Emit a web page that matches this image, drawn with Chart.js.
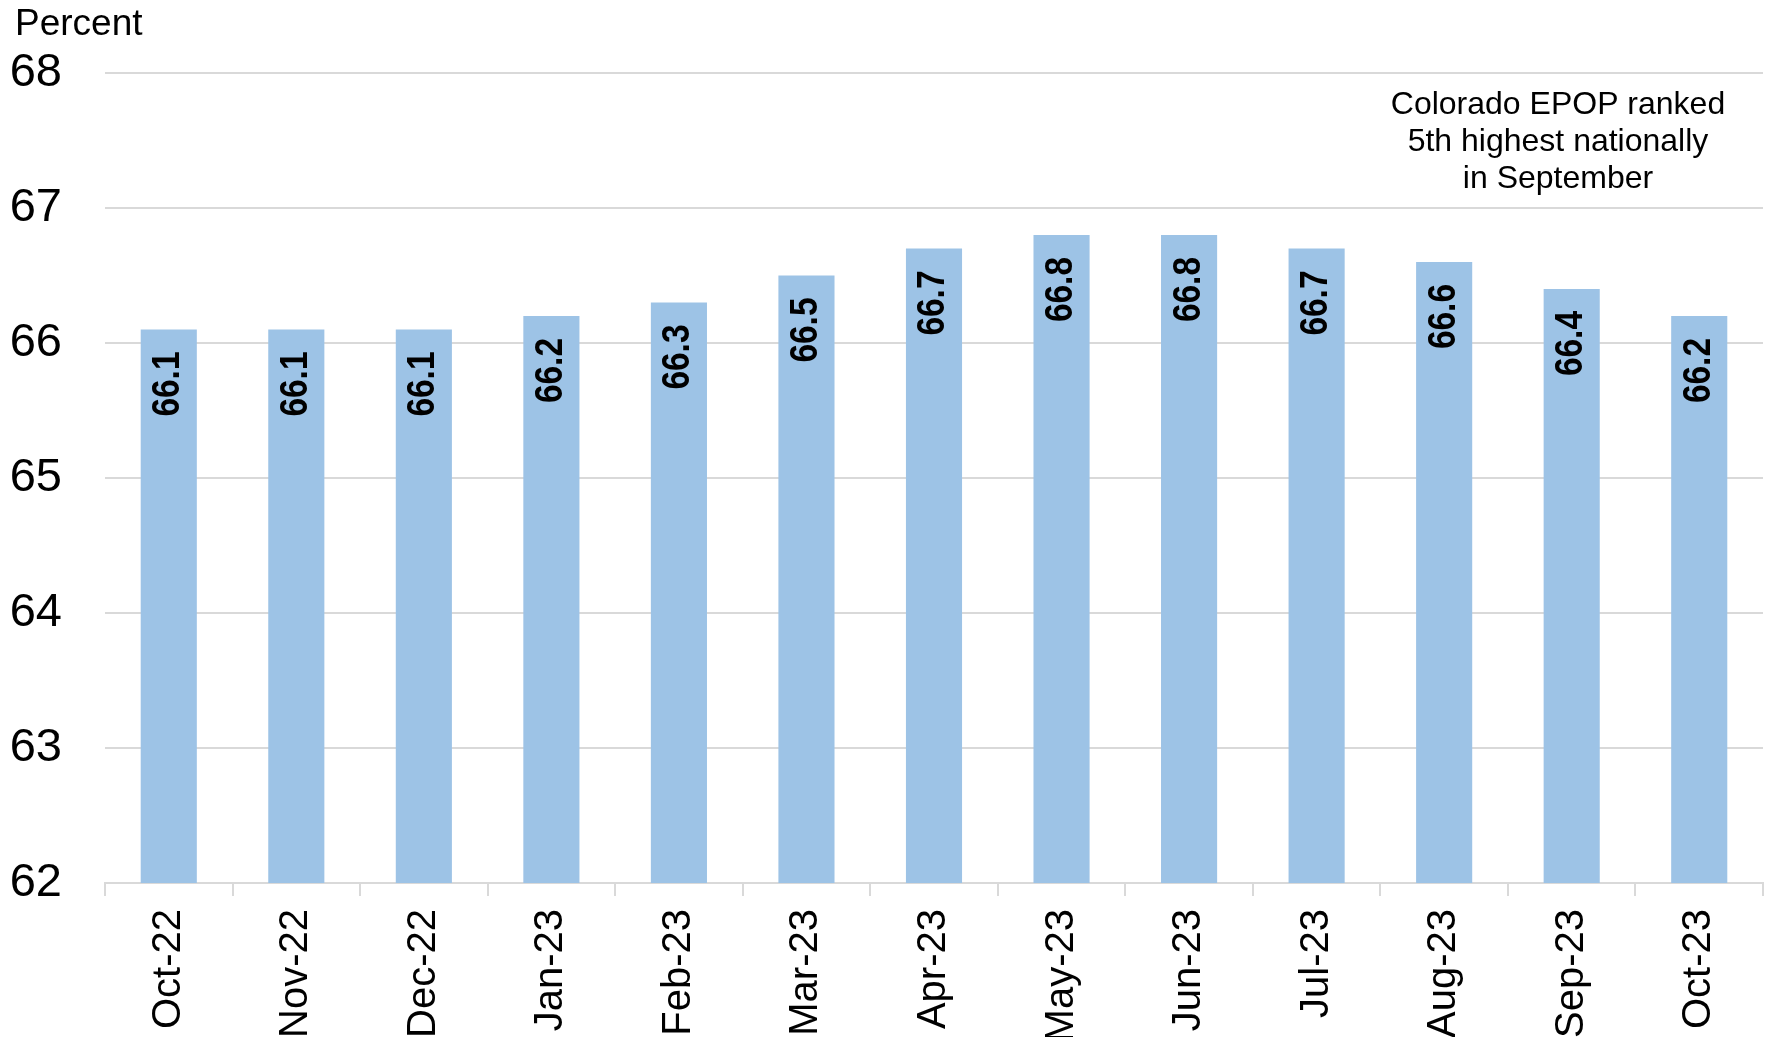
<!DOCTYPE html>
<html>
<head>
<meta charset="utf-8">
<script src="https://cdn.jsdelivr.net/npm/chart.js@4.4.1/dist/chart.umd.min.js"></script>
<style>
  html, body { margin: 0; padding: 0; background: #fff; }
  #wrap { width: 1771px; height: 1037px; overflow: hidden; }
</style>
</head>
<body>
<div id="wrap"><canvas id="epopChart" width="1771" height="1037"></canvas></div>
<script>
// data
const months = ['Oct-22', 'Nov-22', 'Dec-22', 'Jan-23', 'Feb-23', 'Mar-23', 'Apr-23',
                'May-23', 'Jun-23', 'Jul-23', 'Aug-23', 'Sep-23', 'Oct-23'];
const epop = [66.1, 66.1, 66.1, 66.2, 66.3, 66.5, 66.7, 66.8, 66.8, 66.7, 66.6, 66.4, 66.2];
const yTicks = [62, 63, 64, 65, 66, 67, 68];
const noteLines = ['Colorado EPOP ranked', '5th highest nationally', 'in September'];

const FONT = '"Liberation Sans", Arial, sans-serif';
const GRID = '#d9d9d9';

// vertical value labels inside the top of each bar
const barLabels = {
    id: 'barLabels',
    afterDatasetsDraw(chart) {
        const ctx = chart.ctx;
        const meta = chart.getDatasetMeta(0);
        ctx.save();
        ctx.fillStyle = '#000';
        ctx.font = 'bold 38px ' + FONT;
        ctx.textAlign = 'right';
        ctx.textBaseline = 'middle';
        meta.data.forEach((bar, i) => {
            ctx.save();
            ctx.translate(bar.x, bar.y + 22);
            ctx.rotate(-Math.PI / 2);
            ctx.scale(0.88, 1); // glyphs in the original are a bit condensed
            ctx.fillText(epop[i].toFixed(1), 0, 0);
            ctx.restore();
        });
        ctx.restore();
    }
};

// "Percent" unit label and the note in the top right
const extraText = {
    id: 'extraText',
    afterDraw(chart) {
        const ctx = chart.ctx;
        const y = chart.scales.y;
        ctx.save();
        ctx.fillStyle = '#000';
        ctx.font = '37px ' + FONT;
        ctx.textAlign = 'left';
        ctx.textBaseline = 'alphabetic';
        ctx.fillText('Percent', 15, 35);

        ctx.font = '32px ' + FONT;
        ctx.textAlign = 'center';
        ctx.textBaseline = 'middle';
        const cx = chart.chartArea.right - 205;
        let top = y.getPixelForValue(67.76);
        noteLines.forEach((t, i) => ctx.fillText(t, cx, top + i * 37));
        ctx.restore();
    }
};

new Chart(document.getElementById('epopChart').getContext('2d'), {
    type: 'bar',
    data: {
        labels: months,
        datasets: [{
            data: epop,
            backgroundColor: '#9dc3e6',
            borderWidth: 0,
            barPercentage: 0.44,
            categoryPercentage: 1.0
        }]
    },
    options: {
        responsive: false,
        animation: false,
        devicePixelRatio: 1,
        layout: { padding: { top: 73, left: 12, right: 8, bottom: 0 } },
        plugins: {
            legend: { display: false },
            tooltip: { enabled: false }
        },
        scales: {
            x: {
                offset: true,
                grid: {
                    offset: true,
                    drawOnChartArea: false,
                    drawTicks: true,
                    tickLength: 13,
                    color: GRID,
                    lineWidth: 2
                },
                border: { display: true, color: GRID, width: 2 },
                ticks: {
                    minRotation: 90,
                    maxRotation: 90,
                    autoSkip: false,
                    padding: 13,
                    color: '#000',
                    font: { family: FONT, size: 40 }
                },
                afterFit(scale) { scale.height = 154; }
            },
            y: {
                min: yTicks[0],
                max: yTicks[yTicks.length - 1],
                afterBuildTicks(scale) { scale.ticks = yTicks.map(v => ({ value: v })); },
                grid: { color: GRID, lineWidth: 2, drawTicks: false },
                border: { display: false },
                ticks: {
                    padding: 43,
                    color: '#000',
                    font: { family: FONT, size: 47 }
                },
                afterFit(scale) { scale.width = 93; }
            }
        }
    },
    plugins: [barLabels, extraText]
});
</script>
</body>
</html>
